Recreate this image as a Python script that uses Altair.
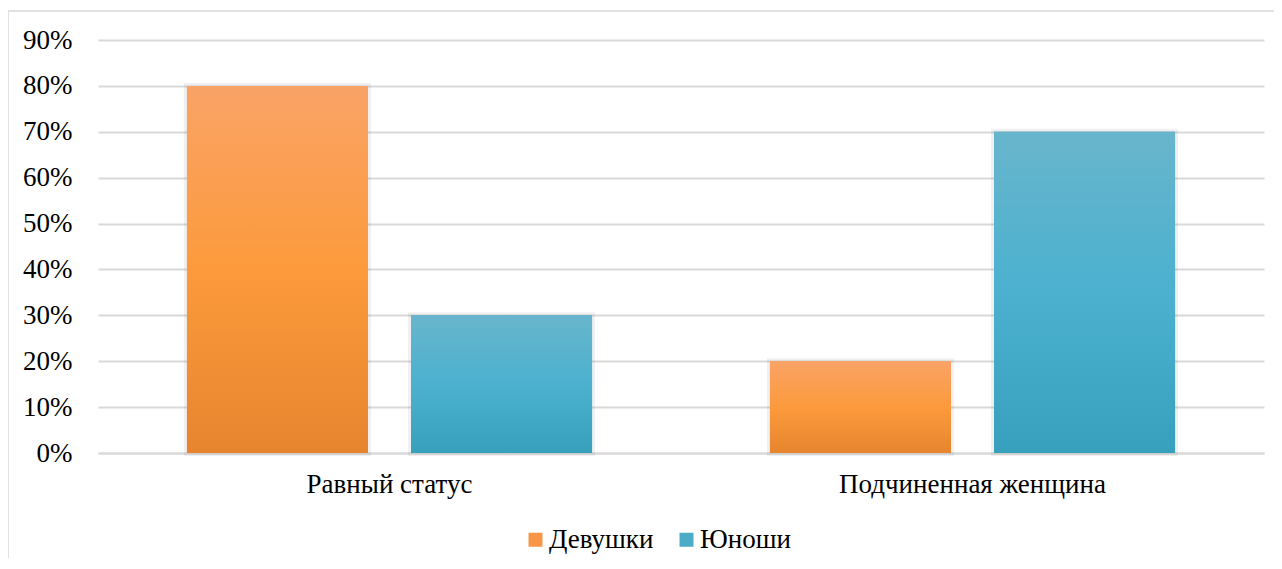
import altair as alt
import pandas as pd

categories = ["Равный статус", "Подчиненная женщина"]
series = ["Девушки", "Юноши"]
girls = [0.80, 0.20]
boys = [0.30, 0.70]
y_ticks = [0, 0.1, 0.2, 0.3, 0.4, 0.5, 0.6, 0.7, 0.8, 0.9]
solid_colors = ["#F79646", "#4BACC6"]

rows = []
for i, c in enumerate(categories):
    rows.append({"category": c, "series": series[0], "value": girls[i]})
    rows.append({"category": c, "series": series[1], "value": boys[i]})
df = pd.DataFrame(rows)

FONT = "Liberation Serif"
FS = 27
W, H = 1166, 413

orange_grad = alt.LinearGradient(
    gradient="linear", x1=0, y1=0, x2=0, y2=1,
    stops=[alt.GradientStop(offset=0, color="#F9A366"),
           alt.GradientStop(offset=0.5, color="#FC9A3C"),
           alt.GradientStop(offset=1, color="#E6852E")])
blue_grad = alt.LinearGradient(
    gradient="linear", x1=0, y1=0, x2=0, y2=1,
    stops=[alt.GradientStop(offset=0, color="#68B5CC"),
           alt.GradientStop(offset=0.5, color="#4BB1CF"),
           alt.GradientStop(offset=1, color="#37A0BC")])

x_enc = alt.X("category:N", sort=categories,
              scale=alt.Scale(paddingInner=0, paddingOuter=0),
              axis=alt.Axis(title=None, labelAngle=0, labelFont=FONT, labelFontSize=FS,
                            labelColor="#000000", domainColor="#D9D9D9", domainWidth=2,
                            ticks=False, labelPadding=18, grid=False, labelLimit=0))
xo_enc = alt.XOffset("series:N", sort=series,
                     scale=alt.Scale(paddingInner=0.192, paddingOuter=0.397))
y_enc = alt.Y("value:Q",
              scale=alt.Scale(domain=[0, 0.9], nice=False),
              axis=alt.Axis(title=None, format=".0%", values=y_ticks, grid=True,
                            gridColor="#D9D9D9", gridWidth=2, domain=False, ticks=False,
                            labelPadding=26, labelFont=FONT, labelFontSize=FS,
                            labelColor="#000000"))

base = alt.Chart(df)

shadow = base.mark_bar(fill="#000000", fillOpacity=0.06, stroke="#000000",
                       strokeOpacity=0.06, strokeWidth=6).encode(
    x=x_enc, xOffset=xo_enc, y=y_enc)

legend_bars = base.mark_bar().encode(
    x=x_enc, xOffset=xo_enc, y=y_enc,
    color=alt.Color("series:N", sort=series,
                    scale=alt.Scale(domain=series, range=solid_colors),
                    legend=alt.Legend(title=None, orient="none", direction="horizontal",
                                      legendX=424, legendY=486, symbolType="square",
                                      symbolSize=196, symbolStrokeWidth=0,
                                      labelFont=FONT, labelFontSize=FS,
                                      labelColor="#000000", labelOffset=0,
                                      columnPadding=19)))

orange_bars = base.mark_bar(color=orange_grad).encode(
    x=x_enc, xOffset=xo_enc, y=y_enc).transform_filter(
    alt.datum.series == series[0])
blue_bars = base.mark_bar(color=blue_grad).encode(
    x=x_enc, xOffset=xo_enc, y=y_enc).transform_filter(
    alt.datum.series == series[1])

frame_data = alt.Data(values=[{"k": 1}])
frame_top = alt.Chart(frame_data).mark_rule(color="#D9D9D9", strokeWidth=1.5).encode(
    x=alt.value(-90), x2=alt.value(W + 20), y=alt.value(-29))
frame_left = alt.Chart(frame_data).mark_rule(color="#D9D9D9", strokeWidth=1.5).encode(
    x=alt.value(-90), y=alt.value(-29), y2=alt.value(H + 120))

chart = alt.layer(frame_top, frame_left, shadow, legend_bars, orange_bars, blue_bars).properties(
    width=W, height=H,
    autosize=alt.AutoSizeParams(type="none"),
    padding={"left": 90, "top": 32, "right": 10, "bottom": 105},
).configure(background="white", font=FONT).configure_view(stroke=None)

chart.save("out.html", embed_options={"renderer": "svg", "actions": False})
